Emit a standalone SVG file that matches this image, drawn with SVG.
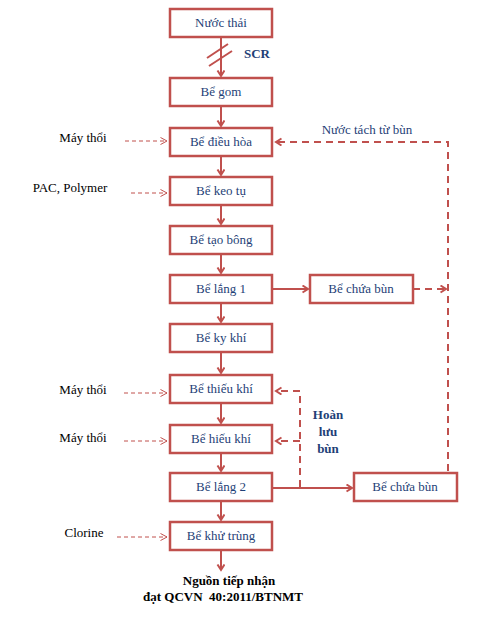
<svg xmlns="http://www.w3.org/2000/svg" width="495" height="617" viewBox="0 0 495 617">
<style>
.box rect{fill:#fff;stroke:#C0504D;stroke-width:2.5}
.box text{font-family:'Liberation Serif','Tinos','DejaVu Serif',serif;font-size:13px;fill:#1F3F77;text-anchor:middle}
.lbl{font-family:'Liberation Serif','Tinos','DejaVu Serif',serif;font-size:13px;fill:#000;text-anchor:middle}
.blue{fill:#1F3F77}
.bold{font-weight:bold}
.solid{stroke:#C0504D;stroke-width:2;fill:none}
.dash{stroke:#C0504D;stroke-width:2;fill:none;stroke-dasharray:7,5}
.thin{stroke:#C0504D;stroke-width:1;fill:none;stroke-dasharray:4,3}
</style>
<defs>
<marker id="ah" markerWidth="10" markerHeight="10" refX="6" refY="4" orient="auto" markerUnits="userSpaceOnUse">
<path d="M0.5,0.5 L6,4 L0.5,7.5" fill="none" stroke="#C0504D" stroke-width="2"/>
</marker>
<marker id="ahs" markerWidth="10" markerHeight="10" refX="7" refY="4" orient="auto" markerUnits="userSpaceOnUse">
<path d="M0.5,0.5 L7,4 L0.5,7.5" fill="none" stroke="#C0504D" stroke-width="1"/>
</marker>
</defs>

<g id="connectors">
<line class="solid" x1="221" y1="37" x2="221" y2="76" marker-end="url(#ah)"/>
<line class="solid" x1="207" y1="58" x2="228" y2="44"/>
<line class="solid" x1="209" y1="66" x2="232" y2="51"/>
<line class="solid" x1="221" y1="106" x2="221" y2="126" marker-end="url(#ah)"/>
<line class="solid" x1="221" y1="156" x2="221" y2="175" marker-end="url(#ah)"/>
<line class="solid" x1="221" y1="205" x2="221" y2="224" marker-end="url(#ah)"/>
<line class="solid" x1="221" y1="254" x2="221" y2="273" marker-end="url(#ah)"/>
<line class="solid" x1="221" y1="303" x2="221" y2="322" marker-end="url(#ah)"/>
<line class="solid" x1="221" y1="352" x2="221" y2="373" marker-end="url(#ah)"/>
<line class="solid" x1="221" y1="403" x2="221" y2="423" marker-end="url(#ah)"/>
<line class="solid" x1="221" y1="453" x2="221" y2="471" marker-end="url(#ah)"/>
<line class="solid" x1="221" y1="501" x2="221" y2="520" marker-end="url(#ah)"/>
<line class="solid" x1="221" y1="550" x2="221" y2="570" marker-end="url(#ah)"/>
<line class="solid" x1="272" y1="289" x2="308" y2="289" marker-end="url(#ah)"/>
<line class="solid" x1="272" y1="488" x2="352" y2="488" marker-end="url(#ah)"/>
<line class="dash" x1="413" y1="289" x2="446" y2="289" marker-end="url(#ah)"/>
<polyline class="dash" points="448,471 448,142 276,142" marker-end="url(#ah)"/>
<line class="dash" x1="300" y1="487" x2="300" y2="391"/>
<line class="dash" x1="300" y1="391" x2="276" y2="391" marker-end="url(#ah)"/>
<line class="dash" x1="300" y1="441" x2="276" y2="441" marker-end="url(#ah)"/>
<line class="thin" x1="125" y1="141" x2="167" y2="141" marker-end="url(#ahs)"/>
<line class="thin" x1="131" y1="193" x2="167" y2="193" marker-end="url(#ahs)"/>
<line class="thin" x1="124" y1="393" x2="167" y2="393" marker-end="url(#ahs)"/>
<line class="thin" x1="124" y1="441" x2="167" y2="441" marker-end="url(#ahs)"/>
<line class="thin" x1="117" y1="537" x2="167" y2="537" marker-end="url(#ahs)"/>
</g>

<g id="n1" class="box"><rect x="170" y="9" width="102" height="28"/><text x="221" y="27">Nước thải</text></g>
<g id="n2" class="box"><rect x="170" y="78" width="102" height="28"/><text x="221" y="96">Bể gom</text></g>
<g id="n3" class="box"><rect x="170" y="128" width="102" height="28"/><text x="221" y="146">Bể điều hòa</text></g>
<g id="n4" class="box"><rect x="170" y="177" width="102" height="28"/><text x="221" y="195">Bể keo tụ</text></g>
<g id="n5" class="box"><rect x="170" y="226" width="102" height="28"/><text x="221" y="244">Bể tạo bông</text></g>
<g id="n6" class="box"><rect x="170" y="275" width="102" height="28"/><text x="221" y="293">Bể lắng 1</text></g>
<g id="n7" class="box"><rect x="170" y="324" width="102" height="28"/><text x="221" y="342">Bể ky khí</text></g>
<g id="n8" class="box"><rect x="170" y="375" width="102" height="28"/><text x="221" y="393">Bể thiếu khí</text></g>
<g id="n9" class="box"><rect x="170" y="425" width="102" height="28"/><text x="221" y="443">Bể hiếu khí</text></g>
<g id="n10" class="box"><rect x="170" y="473" width="102" height="28"/><text x="221" y="491">Bể lắng 2</text></g>
<g id="n11" class="box"><rect x="170" y="522" width="102" height="28"/><text x="221" y="540">Bể khử trùng</text></g>
<g id="n12" class="box"><rect x="310" y="275" width="103" height="28"/><text x="361" y="293">Bể chứa bùn</text></g>
<g id="n13" class="box"><rect x="354" y="473" width="103" height="28"/><text x="405" y="491">Bể chứa bùn</text></g>

<g id="labels">
<text class="lbl blue bold" x="257" y="58">SCR</text>
<text class="lbl blue" x="367" y="134">Nước tách từ bùn</text>
<text class="lbl" x="83" y="142">Máy thổi</text>
<text class="lbl" x="70" y="192">PAC, Polymer</text>
<text class="lbl" x="83" y="394">Máy thổi</text>
<text class="lbl" x="83" y="442">Máy thổi</text>
<text class="lbl" x="84" y="537">Clorine</text>
<text class="lbl blue bold" x="328" y="419">Hoàn</text>
<text class="lbl blue bold" x="328" y="436">lưu</text>
<text class="lbl blue bold" x="328" y="453">bùn</text>
<text class="lbl bold" x="229" y="585">Nguồn tiếp nhận</text>
<text class="lbl bold" x="223" y="601" xml:space="preserve">đạt QCVN  40:2011/BTNMT</text>
</g>
</svg>
